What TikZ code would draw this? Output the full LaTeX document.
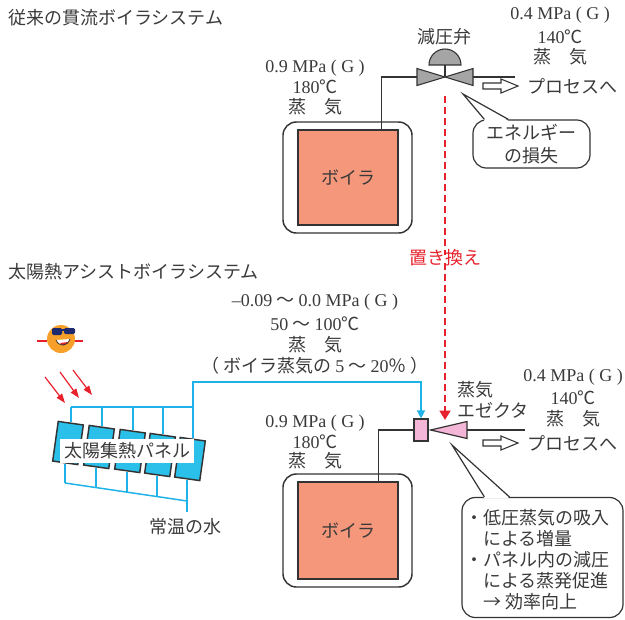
\documentclass[tikz,border=0pt]{standalone}
\usepackage{fontspec}
\setmainfont{Liberation Serif}
\newfontfamily\jp{Noto Sans CJK JP}
\usetikzlibrary{arrows.meta,calc}
\newcommand\rmt[1]{{\rmfamily #1}}

\definecolor{txt}{HTML}{3A3A3A}
\definecolor{ink}{HTML}{333333}
\definecolor{salmon}{HTML}{F5977A}
\definecolor{sky}{HTML}{1DB2E8}
\definecolor{panelfill}{HTML}{2AC0EA}
\definecolor{pinkfill}{HTML}{F4B6D6}
\definecolor{valvegray}{HTML}{A5A5A5}
\definecolor{redline}{HTML}{E8222C}
\definecolor{sunorange}{HTML}{F6A02A}
\definecolor{shades}{HTML}{1E2A6E}

\tikzset{
  lbl/.style={text=txt, font=\fontsize{13.5}{16}\selectfont\jp, inner sep=0pt},
  outerbox/.style={draw=ink, line width=1.1pt, rounded corners=10pt, fill=white},
  innerbox/.style={draw=ink, line width=1.4pt, fill=salmon, text=txt,
                   font=\fontsize{13.5}{16}\selectfont\jp},
  pipe/.style={draw=ink, line width=0.8pt},
  valvepart/.style={draw=ink, line width=0.8pt, fill=valvegray},
  hollow/.style={draw=ink, line width=0.8pt, fill=white},
  callout/.style={draw=ink, line width=0.9pt, rounded corners=10pt, fill=white},
  reddash/.style={draw=redline, line width=2.2pt, dash pattern=on 5.25pt off 3pt},
  redray/.style={draw=redline, line width=0.9pt, -{Triangle[width=5pt,length=7pt]}},
  blueline/.style={draw=sky, line width=1.1pt},
  panel/.style={draw=ink, line width=1.1pt, fill=panelfill, rotate=-8,
                minimum width=19pt, minimum height=30pt, inner sep=0pt},
  ejector/.style={draw=ink, line width=0.9pt, fill=pinkfill}
}

\begin{document}
\begin{tikzpicture}[x=0.75pt, y=-0.75pt]
\useasboundingbox (0,0) rectangle (625,619);

% ---------- conventional once-through boiler ----------
\node[lbl, anchor=west] (titleA) at (8,18) {従来の貫流ボイラシステム};

\node[outerbox, minimum width=96.75pt, minimum height=83.25pt] (oboilA) at (347.5,177.5) {};
\node[innerbox, minimum width=75pt, minimum height=71.25pt] (iboilA) at (348,177.5) {ボイラ};

\node[lbl] (pA1) at (315,68) {\rmt{0.9 MPa ( G )}};
\node[lbl] (pA2) at (315,87) {\rmt{180}℃};
\node[lbl] (pA3) at (315,107) {蒸　気};

% pressure reducing valve
\coordinate (vc) at (445,77);
\coordinate (vin) at (417,77);
\coordinate (vout) at (473,77);
\coordinate (outA) at (515,77);
\draw[pipe] ([xshift=-12.75pt]iboilA.north east) |- (vin);
\draw[pipe] (vout) -- (outA);
\filldraw[valvepart] (vc) -- ++(-28,-8.5) -- ++(0,17) -- cycle;
\filldraw[valvepart] (vc) -- ++(28,-8.5) -- ++(0,17) -- cycle;
\draw[pipe] (vc) -- ++(0,-12);
\filldraw[valvepart] ($(vc)+(-16,-12)$) arc (180:360:16) -- cycle;
\node[lbl] (valvelbl) at (444,37) {減圧弁};

\node[lbl] (qA1) at (560,15) {\rmt{0.4 MPa ( G )}};
\node[lbl] (qA2) at (560,37) {\rmt{140}℃};
\node[lbl] (qA3) at (560,57) {蒸　気};

\coordinate (harA) at (483,86);
\draw[hollow] (harA) ++(0,-3) -- ++(18,0) -- ++(0,-4) -- ++(17,7) -- ++(-17,7) -- ++(0,-4) -- ++(-18,0) -- cycle;
\node[lbl, anchor=west] (procA) at (527,86) {プロセスへ};

% energy-loss callout
\node[callout, minimum width=87.75pt, minimum height=36pt, lbl, align=center,
      font=\fontsize{13.5}{17}\selectfont\jp] (callA) at (531.5,144) {エネルギー\\の損失};
\coordinate (tipA) at (463,94);
\fill[white] (tipA) -- ($(callA.north west)+(12,1.5)$) -- ($(callA.north west)+(36,1.5)$) -- cycle;
\draw[draw=ink, line width=0.9pt] ($(callA.north west)+(12,0)$) -- (tipA) -- ($(callA.north west)+(36,0)$);

% ---------- replacement marker ----------
\coordinate (rdA) at (445,96);
\coordinate (rdB) at (445,420);
\node[lbl, text=redline] (replace) at (445,258) {置き換え};
\draw[reddash] (rdA) -- ([yshift=-4pt]replace.north);
\draw[reddash, -{Triangle[width=8pt,length=7pt]}] ([yshift=3pt]replace.south) -- (rdB);

% ---------- solar assisted boiler ----------
\node[lbl, anchor=west] (titleB) at (8,272) {太陽熱アシストボイラシステム};

\node[lbl] (sB1) at (315,302) {\rmt{–0.09} ～ \rmt{0.0 MPa ( G )}};
\node[lbl] (sB2) at (315,324) {\rmt{50} ～ \rmt{100}℃};
\node[lbl] (sB3) at (315,345) {蒸　気};
\node[lbl] (sB4) at (315,366) {（ ボイラ蒸気の \rmt{5} ～ \rmt{20}％ ）};

% sun
\draw[redline, line width=1pt] (37,341) -- (47,341);
\draw[redline, line width=1pt] (74,341) -- (83,341);
\node[circle, fill=sunorange, minimum size=21pt, inner sep=0pt] (sun) at (61,339) {};
\fill[shades, rounded corners=1pt] ($(sun.center)+(-9,-11)$) rectangle ($(sun.center)+(1,-4)$);
\fill[shades, rounded corners=1pt] ($(sun.center)+(3,-11)$) rectangle ($(sun.center)+(14,-5)$);
\draw[shades, line width=0.8pt] ($(sun.center)+(1,-9)$) -- ($(sun.center)+(3,-9)$);
\fill[white] ($(sun.center)+(-5,1)$) .. controls ($(sun.center)+(-2,8)$) and ($(sun.center)+(6,8)$) .. ($(sun.center)+(9,0)$) -- cycle;
\fill[redline] ($(sun.center)+(-1,4)$) .. controls ($(sun.center)+(1,7)$) and ($(sun.center)+(5,7)$) .. ($(sun.center)+(7,3)$) -- cycle;
\draw[ink, line width=0.6pt] ($(sun.center)+(-5,1)$) .. controls ($(sun.center)+(-2,8)$) and ($(sun.center)+(6,8)$) .. ($(sun.center)+(9,0)$);

% sunlight
\coordinate (ra1s) at (45,377); \coordinate (ra1e) at (65,403);
\coordinate (ra2s) at (60,372); \coordinate (ra2e) at (79,398);
\coordinate (ra3s) at (73,370); \coordinate (ra3e) at (92,395);
\draw[redray] (ra1s) -- (ra1e);
\draw[redray] (ra2s) -- (ra2e);
\draw[redray] (ra3s) -- (ra3e);

% solar collector panels
\node[panel] (p1) at (68,443) {};
\node[panel] (p2) at (99,447) {};
\node[panel] (p3) at (130,451) {};
\node[panel] (p4) at (160,455) {};
\node[panel] (p5) at (190,459) {};

\coordinate (topman) at (0,407);
\coordinate (feed) at (300,382);
\foreach \p in {p1,p2,p3,p4,p5}
  \draw[blueline] (\p.north) -- (\p.north |- topman);
\draw[blueline] (p1.north |- topman) -- (p5.north |- topman);

% cold-water header under the panels
\draw[blueline] (p1.south) -- (p1.south |- 0,483);
\draw[blueline] (p2.south) -- (p2.south |- 0,487.5);
\draw[blueline] (p3.south) -- (p3.south |- 0,492.2);
\draw[blueline] (p4.south) -- (p4.south |- 0,496.5);
\draw[blueline] (p5.south) -- (p5.south |- 0,512);
\draw[blueline] (p1.south |- 0,483) -- (p5.south |- 0,501);

\node[lbl, fill=white, inner xsep=3pt, inner ysep=2.5pt] (panellbl) at (127,451) {太陽集熱パネル};
\node[lbl] (water) at (185,527) {常温の水};

% steam ejector and boiler
\node[ejector, minimum width=10.5pt, minimum height=16.5pt, inner sep=0pt] (ejbox) at (421,430) {};
\coordinate (coneR) at (467,430);
\coordinate (outB) at (525,430);
\filldraw[ejector] ([xshift=1.5pt]ejbox.east) -- ($(coneR)+(0,-8.5)$) -- ($(coneR)+(0,8.5)$) -- cycle;
\draw[pipe] (coneR) -- (outB);
\draw[blueline, -{Triangle[width=6pt,length=6pt]}] (p5.north |- topman) |- (feed) -| (ejbox.north);

\node[outerbox, minimum width=96.75pt, minimum height=84.75pt] (oboilB) at (347.5,530.5) {};
\node[innerbox, minimum width=75pt, minimum height=72.75pt] (iboilB) at (348,530.5) {ボイラ};
\draw[pipe] ([xshift=-15pt]iboilB.north east) |- (ejbox.west);

\node[lbl, anchor=west] (ejl1) at (457,390) {蒸気};
\node[lbl, anchor=west] (ejl2) at (457,410) {エゼクタ};

\node[lbl] (pB1) at (315,423) {\rmt{0.9 MPa ( G )}};
\node[lbl] (pB2) at (315,442) {\rmt{180}℃};
\node[lbl] (pB3) at (315,461) {蒸　気};

\node[lbl] (qB1) at (573,377) {\rmt{0.4 MPa ( G )}};
\node[lbl] (qB2) at (573,398) {\rmt{140}℃};
\node[lbl] (qB3) at (573,419) {蒸　気};

\coordinate (harB) at (483,443);
\draw[hollow] (harB) ++(0,-3) -- ++(18,0) -- ++(0,-4) -- ++(17,7) -- ++(-17,7) -- ++(0,-4) -- ++(-18,0) -- cycle;
\node[lbl, anchor=west] (procB) at (527,443) {プロセスへ};

% effect callout
\node[callout, minimum width=120.75pt, minimum height=90pt] (callB) at (542.5,557.5) {};
\coordinate (tipB) at (452,445);
\fill[white] (tipB) -- ($(callB.north west)+(23,1.5)$) -- ($(callB.north west)+(48,1.5)$) -- cycle;
\draw[draw=ink, line width=0.9pt] ($(callB.north west)+(23,0)$) -- (tipB) -- ($(callB.north west)+(48,0)$);
\node[lbl, anchor=north west, align=left, font=\fontsize{13.5}{15.75}\selectfont\jp] (callBtext) at (465,509)
  {・低圧蒸気の吸入\\\hspace*{1em}による増量\\・パネル内の減圧\\\hspace*{1em}による蒸発促進\\\hspace*{1em}→ 効率向上};

\end{tikzpicture}
\end{document}
